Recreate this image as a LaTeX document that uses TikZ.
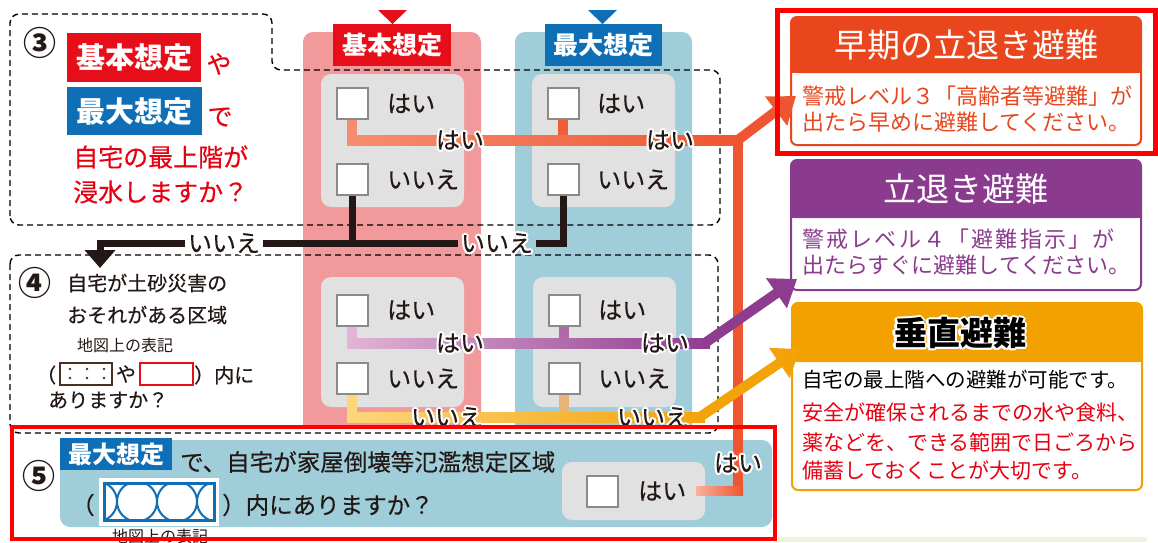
\documentclass[tikz,border=0pt]{standalone}
\usepackage{fontspec}
\setmainfont{Noto Sans CJK JP}
\newfontfamily\jpmed{Noto Sans CJK JP}[FakeBold=0.35]
\usetikzlibrary{arrows.meta,calc}

\definecolor{colPink}{HTML}{F29A9B}
\definecolor{colBlue}{HTML}{9FCDD9}
\definecolor{colGrey}{HTML}{E1E1E1}
\definecolor{cbBorder}{HTML}{8A8A8A}
\definecolor{lblRed}{HTML}{E60F19}
\definecolor{lblBlue}{HTML}{0F6FB6}
\definecolor{txtDark}{HTML}{231815}
\definecolor{orLight}{HTML}{F58E70}
\definecolor{orDark}{HTML}{EE5530}
\definecolor{orMid}{HTML}{EF5E35}
\definecolor{puLight}{HTML}{E2B4D5}
\definecolor{puDark}{HTML}{8E3C8F}
\definecolor{puMid}{HTML}{B06AA5}
\definecolor{yeLight}{HTML}{FDD67A}
\definecolor{yeDark}{HTML}{F4A20A}
\definecolor{yeMid}{HTML}{E8B47A}
\definecolor{boxOr}{HTML}{E9461E}
\definecolor{boxPu}{HTML}{8B3B8E}
\definecolor{boxYe}{HTML}{F3A100}
\definecolor{frameRed}{HTML}{FF0000}
\definecolor{redTxt}{HTML}{E60012}
\definecolor{brownBox}{HTML}{4A3020}
\definecolor{greenBand}{HTML}{EEF3DA}

\newcommand\fs[1]{\fontsize{#1}{#1}\selectfont}

\tikzset{
  dashbox/.style={draw=black,line width=1.4pt,dash pattern=on 6pt off 4pt,rounded corners=9pt},
  greybox/.style={fill=colGrey,rounded corners=10pt},
  chk/.style={draw=cbBorder,fill=white,line width=2pt,minimum size=31pt,inner sep=0pt},
  chktext/.style={font=\jpmed\fs{24},text=txtDark,anchor=west,inner sep=0pt},
  lbl/.style={font=\jpmed\fs{24},text=txtDark,inner sep=0pt},
  plain/.style={inner sep=0pt,text=txtDark},
  headlbl/.style={text=white,font=\fs{25}\bfseries,inner sep=0pt},
  conn/.style={line width=10pt},
  blk/.style={line width=7pt,draw=txtDark},
  bigtip/.style={-{Triangle[length=25pt,width=35pt]}},
}

\newcommand\halo[4][]{%
  \foreach \haloang in {0,45,...,315}{%
    \node[lbl,#1,text=white] at ($(#3)+(\haloang:2.2)$) {#4};}%
  \node[lbl,#1] (#2) at (#3) {#4};}

\begin{document}
\begin{tikzpicture}[x=1pt,y=-1pt]
\useasboundingbox (0,0) rectangle (1158,542);
\fill[white] (0,0) rectangle (1158,542);
\fill[greenBand] (778,537) rectangle (1147,542);

% ---------- columns ----------
\fill[colPink,rounded corners=10pt] (303,32) rectangle (481,445);
\fill[colBlue,rounded corners=10pt] (515,32) rectangle (692,445);
\fill[lblRed] (378,10) -- (407,10) -- (392.5,24) -- cycle;
\fill[lblBlue] (588,10) -- (617,10) -- (602.5,24) -- cycle;
\node[headlbl,fill=lblRed,minimum width=118pt,minimum height=42pt] (hdrA) at (392,45) {基本想定};
\node[headlbl,fill=lblBlue,minimum width=117pt,minimum height=42pt] (hdrB) at (603.5,45) {最大想定};

% ---------- section 5 base ----------
\fill[white] (10,425) rectangle (776,540);
\fill[colBlue,rounded corners=10pt] (60,440) rectangle (772,527);

% ---------- dashed sections ----------
\draw[dashbox] (10,225) -- (10,14) -- (272,14) -- (272,70) -- (720,70) -- (720,225) -- cycle;
\draw[dashbox] (10,255) rectangle (718,433);

% ---------- grey answer boxes ----------
\fill[greybox] (321,74) rectangle (464,207);
\fill[greybox] (532,74) rectangle (675,207);
\fill[greybox] (321,277) rectangle (464,407);
\fill[greybox] (533,277) rectangle (676,407);

\node[chk] (cbA1) at (352,103.5) {};
\node[chktext] (tA1) at (387,103.5) {はい};
\node[chk] (cbA2) at (352,179.5) {};
\node[chktext] (tA2) at (387,179.5) {いいえ};
\node[chk] (cbB1) at (563,103.5) {};
\node[chktext] (tB1) at (597,103.5) {はい};
\node[chk] (cbB2) at (563,179.5) {};
\node[chktext] (tB2) at (597,179.5) {いいえ};

\node[chk] (cbC1) at (352,310) {};
\node[chktext] (tC1) at (387,310) {はい};
\node[chk] (cbC2) at (352,378.5) {};
\node[chktext] (tC2) at (387,378.5) {いいえ};
\node[chk] (cbD1) at (564,310) {};
\node[chktext] (tD1) at (598,310) {はい};
\node[chk] (cbD2) at (564,378.5) {};
\node[chktext] (tD2) at (598,378.5) {いいえ};

% ---------- section 3 text ----------
\node[plain,font=\fs{33}\bfseries] (n3) at (40,43) {③};
\node[headlbl,fill=lblRed,font=\fs{29}\bfseries,minimum width=134pt,minimum height=49pt,anchor=north west] (lblKihon) at (67,33) {基本想定};
\node[plain,font=\jpmed\fs{25},text=redTxt] (tYa) at (219,64) {や};
\node[headlbl,fill=lblBlue,font=\fs{29}\bfseries,minimum width=135pt,minimum height=48pt,anchor=north west] (lblSaidai) at (67,87) {最大想定};
\node[plain,font=\jpmed\fs{25},text=redTxt] (tDe) at (220,117) {で};
\node[plain,font=\jpmed\fs{25},text=redTxt,anchor=west] (t3a) at (73,157) {自宅の最上階が};
\node[plain,font=\jpmed\fs{25},text=redTxt,anchor=west] (t3b) at (73,192) {浸水しますか？};

% ---------- section 4 text ----------
\node[plain,font=\fs{33}\bfseries] (n4) at (35,283) {④};
\node[plain,font=\jpmed\fs{20},anchor=west] (t4a) at (67,283) {自宅が土砂災害の};
\node[plain,font=\jpmed\fs{20},anchor=west] (t4b) at (67,315) {おそれがある区域};
\node[plain,font=\fs{16},anchor=west] (t4c) at (77,345) {地図上の表記};
\node[plain,font=\jpmed\fs{20},anchor=west] (t4d) at (36,375) {（};
\draw[brownBox,line width=2pt,fill=white] (60,363) rectangle (112,385);
\foreach \dx in {70,87,104}{\fill[brownBox] (\dx,369) circle (1.4); \fill[brownBox] (\dx,378) circle (1.4);}
\node[plain,font=\jpmed\fs{20}] (t4e) at (126,374) {や};
\draw[lblRed,line width=2pt,fill=white] (140,363) rectangle (193,385);
\node[plain,font=\jpmed\fs{20},anchor=west] (t4f) at (194,375) {）内に};
\node[plain,font=\jpmed\fs{20},anchor=west] (t4g) at (48,400) {ありますか？};

% ---------- section 5 content ----------
\node[plain,font=\fs{33}\bfseries] (n5) at (39,476) {⑤};
\node[headlbl,fill=lblBlue,font=\fs{24}\bfseries,minimum width=112pt,minimum height=32pt,anchor=north west] (lbl5) at (60,438) {最大想定};
\node[plain,anchor=west,font=\jpmed\fs{23.5}] (t5a) at (180,462) {で、自宅が家屋倒壊等氾濫想定区域};
\node[plain,anchor=west,font=\jpmed\fs{23.5}] (t5b) at (71,505) {（};
\fill[white] (99,478) rectangle (219,526);
\begin{scope}
  \clip (104,483) rectangle (214,520);
  \foreach \cx in {97,137,177,217}{\draw[lblBlue,line width=2pt] (\cx,501.5) circle (20);}
\end{scope}
\draw[lblBlue,line width=3pt] (104,483) rectangle (214,520);
\node[plain,anchor=west,font=\jpmed\fs{23.5}] (t5c) at (222,505) {）内にありますか？};
\node[plain,font=\fs{16}] (t5d) at (160,536) {地図上の表記};
\fill[greybox] (562,462) rectangle (705,520);
\node[chk] (cbE) at (602,491) {};
\node[chktext] (tE) at (638,491) {はい};

% ---------- right result boxes ----------
\draw[boxOr,line width=2pt,fill=white,rounded corners=6pt] (791,17) rectangle (1141,145);
\fill[boxOr,rounded corners=6pt] (791,17) rectangle (1141,73);
\fill[boxOr] (791,60) rectangle (1141,73);
\node[plain,text=white,font=\fs{33}] (h1) at (966,45) {早期の立退き避難};
\node[plain,text=boxOr,font=\fs{22},anchor=west] (b1a) at (802,96) {警戒レベル３「高齢者等避難」が};
\node[plain,text=boxOr,font=\fs{22},anchor=west] (b1b) at (802,122) {出たら早めに避難してください。};

\draw[boxPu,line width=2pt,fill=white,rounded corners=6pt] (791,160) rectangle (1141,290);
\fill[boxPu,rounded corners=6pt] (791,160) rectangle (1141,218);
\fill[boxPu] (791,205) rectangle (1141,218);
\node[plain,text=white,font=\fs{33}] (h2) at (966,189) {立退き避難};
\node[plain,text=boxPu,font=\fs{22}\addfontfeature{LetterSpace=10},anchor=west] (b2a) at (802,239) {警戒レベル４「避難指示」が};
\node[plain,text=boxPu,font=\fs{22},anchor=west] (b2b) at (802,265) {出たらすぐに避難してください。};

\draw[boxYe,line width=2pt,fill=white,rounded corners=6pt] (792,303) rectangle (1142,490);
\fill[boxYe,rounded corners=6pt] (792,303) rectangle (1142,362);
\fill[boxYe] (792,349) rectangle (1142,362);
\halo[font=\fs{33}\bfseries,text=black]{h3}{960,333}{垂直避難}
\node[plain,text=black,font=\fs{20.5},anchor=west] (b3a) at (802,380) {自宅の最上階への避難が可能です。};
\node[plain,text=redTxt,font=\fs{21},anchor=west] (b3b) at (802,412) {安全が確保されるまでの水や食料、};
\node[plain,text=redTxt,font=\fs{21},anchor=west] (b3c) at (802,442) {薬などを、できる範囲で日ごろから};
\node[plain,text=redTxt,font=\fs{21},anchor=west] (b3d) at (802,470) {備蓄しておくことが大切です。};

% ---------- connectors ----------
\coordinate (J1) at (738,140);
\coordinate (T1) at (796,96);
\coordinate (J2) at (705,343);
\coordinate (T2) at (797,279);
\coordinate (J3) at (700,417);
\coordinate (T3) at (800,349);
\coordinate (K5) at (738,490);
\coordinate (A4) at (100,268);

% orange (section 3 yes + section 5 yes)
\draw[conn,orLight] (cbA1.south) -- (cbA1.south |- J1);
\shade[left color=orLight,right color=orDark] ($(cbA1.south |- J1)+(-5,-5)$) rectangle ($(J1)+(5,5)$);
\draw[conn,orMid] (cbB1.south) -- ($(cbB1.south |- J1)+(0,-5)$);
\draw[conn,orDark] ($(J1)+(0,-5)$) -- (K5);
\shade[left color=orLight!70!white,right color=orDark] ($(tE.east)+(10,-5)$) rectangle ($(K5)+(5,5)$);
\draw[conn,orDark,bigtip] (J1) -- (T1);

% purple (section 4 yes)
\draw[conn,puLight] (cbC1.south) -- (cbC1.south |- J2);
\shade[left color=puLight,right color=puDark] ($(cbC1.south |- J2)+(-5,-5)$) rectangle ($(J2)+(5,5)$);
\draw[conn,puMid] (cbD1.south) -- ($(cbD1.south |- J2)+(0,-5)$);
\draw[conn,puDark,bigtip] (J2) -- (T2);

% yellow (section 4 no)
\draw[conn,yeLight] (cbC2.south) -- (cbC2.south |- J3);
\shade[left color=yeLight,right color=yeDark] ($(cbC2.south |- J3)+(-5,-5)$) rectangle ($(J3)+(5,5)$);
\draw[conn,yeMid] (cbD2.south) -- ($(cbD2.south |- J3)+(0,-5)$);
\draw[conn,yeDark,bigtip] (J3) -- (T3);

% black (section 3 no)
\halo{nN1}{224,243}{いいえ}
\halo{nN2}{497,243}{いいえ}
\draw[blk] (cbB2.south) |- ($(nN2.east)+(3,0)$);
\draw[blk] ($(nN2.west)+(-3,0)$) -- ($(nN1.east)+(3,0)$);
\draw[blk] (cbA2.south) -- (cbA2.south |- nN1);
\draw[blk,-{Triangle[length=18pt,width=30pt]}] ($(nN1.west)+(-3,0)$) -| (A4);

% labels on coloured connectors
\halo{lO1}{460,140}{はい}
\halo{lO2}{670,140}{はい}
\halo{lP1}{460,343}{はい}
\halo{lP2}{665,343}{はい}
\begin{scope}
  \clip (0,0) rectangle (1158,425);
  \halo{lY1}{447,417}{いいえ}
  \halo{lY2}{653,417}{いいえ}
\end{scope}
\halo{lO5}{738,463}{はい}

% ---------- red highlight frames ----------
\draw[frameRed,line width=5pt] (777,10) rectangle (1155,153);
\draw[frameRed,line width=4.5pt] (12,427) rectangle (775,539);
\end{tikzpicture}
\end{document}
